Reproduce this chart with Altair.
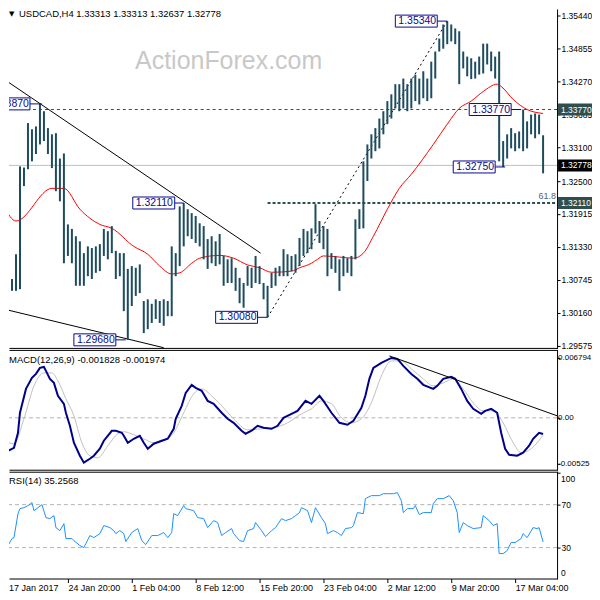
import json
import altair as alt
import pandas as pd

# ---------------- data ----------------
# H4 bars, every second bar shown (bar index step 2), high / low
bar_high = [1.3078, 1.3072, 1.3076, 1.3120, 1.3276, 1.3274, 1.3353, 1.3342, 1.3347, 1.3387,
            1.3374, 1.3344, 1.3333, 1.3335, 1.3290, 1.3299, 1.3173, 1.3165, 1.3152, 1.3143,
            1.3122, 1.3134, 1.3131, 1.3134, 1.3138, 1.3165, 1.3161, 1.3170, 1.3126, 1.3122,
            1.3122, 1.3094, 1.3099, 1.3096, 1.3102, 1.3037, 1.3040, 1.3032, 1.3040, 1.3037,
            1.3040, 1.3037, 1.3134, 1.3122, 1.3205, 1.3211, 1.3200, 1.3193, 1.3188, 1.3175,
            1.3170, 1.3147, 1.3152, 1.3143, 1.3156, 1.3117, 1.3111, 1.3113, 1.3096, 1.3078,
            1.3069, 1.3099, 1.3096, 1.3117, 1.3099, 1.3069, 1.3064, 1.3087, 1.3096, 1.3099,
            1.3129, 1.3120, 1.3117, 1.3120, 1.3149, 1.3165, 1.3161, 1.3166, 1.3209, 1.3179,
            1.3170, 1.3165, 1.3122, 1.3117, 1.3111, 1.3117, 1.3113, 1.3117, 1.3182, 1.3200,
            1.3285, 1.3315, 1.3333, 1.3344, 1.3361, 1.3374, 1.3392, 1.3404, 1.3422, 1.3422,
            1.3432, 1.3422, 1.3432, 1.3439, 1.3432, 1.3445, 1.3432, 1.3462, 1.3480, 1.3503,
            1.3528, 1.3534, 1.3528, 1.3521, 1.3516, 1.3480, 1.3471, 1.3468, 1.3462, 1.3471,
            1.3494, 1.3494, 1.3480, 1.3471, 1.3480, 1.3321, 1.3333, 1.3344, 1.3335, 1.3338,
            1.3377, 1.3356, 1.3368, 1.3370, 1.3368, 1.33313]
bar_low = [1.3033, 1.3046, 1.3055, 1.3055, 1.3058, 1.3241, 1.3271, 1.3285, 1.3298, 1.3315,
           1.3321, 1.3298, 1.3273, 1.3232, 1.3214, 1.3104, 1.3117, 1.3104, 1.3064, 1.3064,
           1.3064, 1.3081, 1.3076, 1.3087, 1.3090, 1.3117, 1.3111, 1.3122, 1.3076, 1.3081,
           1.3019, 1.2968, 1.3028, 1.3046, 1.3051, 1.2980, 1.2987, 1.2998, 1.3005, 1.2998,
           1.2993, 1.3010, 1.3010, 1.3081, 1.3099, 1.3134, 1.3152, 1.3147, 1.3140, 1.3134,
           1.3111, 1.3094, 1.3104, 1.3099, 1.3102, 1.3064, 1.3069, 1.3069, 1.3055, 1.3033,
           1.3025, 1.3064, 1.3060, 1.3069, 1.3067, 1.3040, 1.3008, 1.3060, 1.3064, 1.3081,
           1.3081, 1.3081, 1.3090, 1.3087, 1.3099, 1.3117, 1.3122, 1.3129, 1.3157, 1.3140,
           1.3129, 1.3081, 1.3094, 1.3087, 1.3055, 1.3081, 1.3087, 1.3081, 1.3111, 1.3165,
           1.3166, 1.3250, 1.3290, 1.3303, 1.3308, 1.3333, 1.3351, 1.3361, 1.3379, 1.3374,
           1.3379, 1.3374, 1.3379, 1.3392, 1.3386, 1.3397, 1.3392, 1.3397, 1.3432, 1.3480,
           1.3485, 1.3493, 1.3498, 1.3493, 1.3422, 1.3450, 1.3436, 1.3431, 1.3432, 1.3439,
           1.3441, 1.3457, 1.3445, 1.3432, 1.3285, 1.3275, 1.3290, 1.3308, 1.3303, 1.3308,
           1.3303, 1.3308, 1.3333, 1.3326, 1.3333, 1.32637]
bar_step = 2

ma_index = [0, 6, 24, 30, 38, 48, 54, 65, 72, 78, 84, 88, 94, 98, 108, 115, 122, 128, 134, 144,
            148, 154, 157, 160, 168, 175, 180, 185, 192, 198, 204, 215, 222, 228, 234, 240, 247,
            249, 255, 262, 270]
ma_value = [1.3205, 1.3179, 1.3237, 1.3237, 1.3200, 1.3173, 1.3166, 1.3134, 1.3120, 1.3099,
            1.3085, 1.3087, 1.3104, 1.3113, 1.3118, 1.3113, 1.3101, 1.3096, 1.3088, 1.3090,
            1.3096, 1.3104, 1.3111, 1.3117, 1.3115, 1.3113, 1.3122, 1.3152, 1.3200, 1.3237,
            1.3262, 1.3315, 1.3351, 1.3379, 1.3392, 1.3409, 1.3422, 1.3418, 1.3395, 1.3377,
            1.3370]

macd_index = [0, 2, 5, 7, 8, 11, 14, 16, 18, 20, 21, 23, 25, 27, 30, 31, 33, 35, 38, 40,
              43, 45, 48, 50, 54, 56, 59, 60, 62, 65, 68, 70, 72, 75, 79, 82, 85, 86, 89, 91,
              94, 96, 99, 102, 105, 109, 112, 115, 119, 121, 124, 127, 130, 134, 137, 140, 144,
              147, 149, 151, 154, 158, 160, 164, 168, 172, 175, 179, 181, 183, 185, 189, 194,
              197, 200, 204, 207, 210, 215, 217, 220, 224, 226, 229, 232, 235, 239, 241, 244,
              247, 249, 251, 253, 257, 260, 263, 265, 268, 270]
macd_value = [-0.00317, -0.00374, -0.00340, -0.00170, 0.00057, 0.00328, 0.00453, 0.00498,
              0.00566, 0.00577, 0.00532, 0.00442, 0.00396, 0.00249, 0.00158, 0.00057, -0.00091,
              -0.00283, -0.00430, -0.00509, -0.00464, -0.00430, -0.00351, -0.00260, -0.00147,
              -0.00147, -0.00170, -0.00204, -0.00283, -0.00238, -0.00204, -0.00283, -0.00351,
              -0.00294, -0.00260, -0.00238, -0.00125, -0.00011, 0.00136, 0.00283, 0.00374,
              0.00340, 0.00306, 0.00192, 0.00158, 0.00057, -0.00011, -0.00057, -0.00147,
              -0.00181, -0.00147, -0.00091, -0.00113, -0.00125, -0.00091, 0.0, 0.00045, 0.00079,
              0.00136, 0.00192, 0.00158, 0.00249, 0.00192, 0.00057, -0.00057, -0.00079, -0.00034,
              0.00113, 0.00249, 0.00442, 0.00566, 0.00623, 0.00679, 0.00668, 0.00589, 0.00498,
              0.00442, 0.00374, 0.00328, 0.00362, 0.00442, 0.00464, 0.00442, 0.00328, 0.00192,
              0.00102, 0.00045, 0.00079, 0.00102, 0.00057, -0.00170, -0.00351, -0.00419,
              -0.00430, -0.00396, -0.00317, -0.00238, -0.00170, -0.001828]

signal_index = [0, 5, 10, 15, 20, 24, 27, 31, 35, 39, 43, 47, 52, 57, 60, 65, 70, 75, 80, 85,
                90, 95, 99, 104, 109, 115, 122, 129, 135, 142, 149, 154, 159, 164, 169, 174, 179,
                184, 189, 194, 199, 204, 210, 215, 220, 225, 230, 235, 240, 245, 250, 255, 259,
                264, 270]
signal_value = [-0.00260, -0.00294, -0.00011, 0.00362, 0.00509, 0.00509, 0.00419, 0.00215,
                0.00023, -0.00283, -0.00430, -0.00453, -0.00317, -0.00181, -0.00158, -0.00192,
                -0.00238, -0.00283, -0.00260, -0.00170, 0.00057, 0.00272, 0.00328, 0.00249,
                0.00136, -0.00011, -0.00136, -0.00125, -0.00113, -0.00057, 0.00045, 0.00102,
                0.00192, 0.00158, 0.0, -0.00057, -0.00011, 0.00170, 0.00475, 0.00645, 0.00645,
                0.00555, 0.00442, 0.00362, 0.00396, 0.00442, 0.00328, 0.00170, 0.00079, 0.00079,
                -0.00057, -0.00283, -0.00396, -0.00351, -0.001974]

rsi_index = [0, 2, 4, 5, 7, 8, 10, 12, 14, 15, 17, 19, 21, 23, 25, 26, 28, 30, 31, 34,
             35, 38, 40, 41, 43, 45, 48, 50, 53, 55, 56, 58, 60, 61, 64, 67, 69, 71, 74, 77,
             80, 82, 84, 85, 87, 90, 91, 95, 97, 100, 102, 105, 107, 109, 111, 114, 115, 118, 120,
             122, 125, 126, 129, 131, 134, 136, 139, 141, 144, 146, 148, 149, 152, 154, 156, 159,
             161, 162, 165, 167, 169, 171, 174, 175, 177, 180, 181, 184, 188, 190, 192, 195, 197,
             199, 200, 202, 205, 206, 208, 210, 214, 215, 217, 220, 223, 225, 227, 228, 230, 232,
             235, 239, 240, 243, 245, 247, 248, 250, 252, 254, 256, 259, 260, 262, 265, 267, 268,
             270]
rsi_value = [32.8, 31.9, 38.4, 39.3, 61.6, 66.3, 67.2, 69.1, 71.9, 64.4,
             67.2, 70.0, 57.9, 57.0, 59.8, 48.6, 45.8, 52.3, 38.4, 38.4,
             36.5, 31.9, 30.0, 33.7, 41.2, 39.3, 43.0, 50.5, 48.6, 45.8,
             43.0, 45.8, 43.0, 35.6, 44.0, 47.7, 36.5, 32.8, 41.2, 41.2,
             44.0, 39.3, 44.0, 61.6, 59.8, 69.1, 66.3, 64.4, 57.9, 57.0,
             48.6, 55.1, 53.3, 41.2, 44.0, 47.7, 43.0, 36.5, 35.6, 45.8,
             47.7, 53.3, 45.8, 40.2, 45.8, 48.6, 57.0, 55.1, 57.0, 59.8,
             62.6, 67.2, 64.4, 53.3, 67.2, 57.9, 52.3, 43.0, 45.8, 44.0,
             41.2, 47.7, 48.6, 50.5, 62.6, 61.6, 75.6, 78.4, 78.4, 80.2,
             80.2, 80.2, 81.2, 73.7, 62.6, 66.3, 66.3, 69.1, 60.7, 62.6,
             62.6, 70.9, 75.6, 75.6, 78.4, 73.7, 62.6, 44.0, 53.3, 50.5,
             47.7, 48.6, 59.8, 55.1, 50.5, 52.3, 24.4, 24.4, 27.2, 34.7,
             34.7, 38.4, 43.0, 39.3, 48.6, 47.7, 48.6, 35.2568]

price_ticks = [1.35440, 1.34855, 1.34270, 1.33685, 1.33100, 1.32500, 1.31915, 1.31330,
               1.30745, 1.30160, 1.29575]
macd_ticks = [0.006794, 0.0, -0.005254]
macd_tick_labels = ["0.006794", "0.00", "-0.005254"]
rsi_ticks = [30, 70, 100]
rsi_levels = [30, 70]
date_index = [0, 32, 64, 96, 128, 160, 192, 224, 256]
date_labels = ["17 Jan 2017", "24 Jan 20:00", "1 Feb 04:00", "8 Feb 12:00", "15 Feb 20:00",
               "23 Feb 04:00", "2 Mar 12:00", "9 Mar 20:00", "17 Mar 04:00"]

ann_text = ["1.33870", "1.35340", "1.32110", "1.29680", "1.30080", "1.33770", "1.32750"]
ann_price = [1.33870, 1.35340, 1.32110, 1.29680, 1.30080, 1.33770, 1.32750]
ann_bar = [19, 222, 90, 61, 132, 259, 251]
ann_box_left = [-8, 196, 64.5, 35, 106, 233, 225]

level_price = [1.33770, 1.32110]
level_start = [-0.5, 132]
last_price = 1.32778

trend_x1 = [-0.5, -0.5]
trend_y1 = [1.3432, 1.3023]
trend_x2 = [128.5, 80]
trend_y2 = [1.3122, 1.2954]
swing_x = [132, 222]
swing_y = [1.30080, 1.35340]
macd_trend_x = [193, 277]
macd_trend_y = [0.00702, 0.00023]

tag_price = [1.33770, 1.32778, 1.32110]
tag_text = ["1.33770", "1.32778", "1.32110"]
tag_color = ["#2f4f4f", "#000000", "#2f4f4f"]

title_text = "USDCAD,H4  1.33313 1.33313 1.32637 1.32778"
macd_text = "MACD(12,26,9) -0.001828 -0.001974"
rsi_text = "RSI(14) 35.2568"

# ---------------- styling / geometry ----------------
FONT = "Liberation Sans"
FS = 9.5      # panel captions
FA = 8.5      # right-hand axis labels
BAR = "#1d4c5f"
NAVY = "#0a0a8c"
W = 549
H_MAIN, H_MACD, H_RSI = 339, 120, 107
X_MIN, X_MAX = 2.5, 277

XS = alt.Scale(domain=[X_MIN, X_MAX], nice=False, zero=False)
YP = alt.Scale(domain=[1.295367, 1.355462], nice=False, zero=False)
YM = alt.Scale(domain=[-0.005888, 0.0077], nice=False, zero=False)
YR = alt.Scale(domain=[1.16, 100.7], nice=False, zero=False)

AX_P = alt.Axis(orient="right", values=price_ticks, format=".5f", tickSize=3, labelPadding=1,
                domain=False, grid=False, title=None, labelOverlap=False, labelFlush=False,
                labelFontSize=FA)
AX_M = alt.Axis(orient="right", values=macd_ticks, tickSize=3, labels=False, domain=False,
                grid=False, title=None)
AX_R = alt.Axis(orient="right", values=rsi_ticks, tickSize=3, labelPadding=1,
                domain=False, grid=False, title=None, labelOverlap=False, labelFlush=False,
                labelFontSize=FA, labelExpr="datum.value > 90 ? '' : format(datum.value, 'd')")
axis_dates = [d for d in date_index if d >= X_MIN]
AX_D = alt.Axis(values=axis_dates, tickSize=4, labelPadding=8, labelAlign="left",
                labelBaseline="alphabetic", labelFlush=False, labelOverlap=False, domain=False,
                grid=False, title=None, labelFontSize=9,
                labelExpr=f"{json.dumps(date_labels)}[indexof({json.dumps(date_index)}, datum.value)]")


def xq(f, axis=None):
    return alt.X(f, type="quantitative", scale=XS, axis=axis)


def yq(f, scale, axis):
    return alt.Y(f, type="quantitative", scale=scale, axis=axis)


def one():
    return pd.DataFrame({"a": [0]})


def frame(height, top=True):
    # right, bottom (and optional top) border lines of a panel
    parts = [
        alt.Chart(one()).mark_rule(color="black", strokeWidth=1).encode(
            x=alt.value(W + 0.5), y=alt.value(0), y2=alt.value(height + 1)),
        alt.Chart(one()).mark_rule(color="black", strokeWidth=1).encode(
            x=alt.value(0.5), x2=alt.value(W + 0.5), y=alt.value(height + 0.5)),
    ]
    if top:
        parts.append(alt.Chart(one()).mark_rule(color="black", strokeWidth=1).encode(
            x=alt.value(0.5), x2=alt.value(W + 0.5), y=alt.value(0.5)))
    return parts


def label(text, x, y, size=FS, color="black", font=FONT, align="left", baseline="middle"):
    return alt.Chart(pd.DataFrame({"t": [text]})).mark_text(
        align=align, baseline=baseline, color=color, font=font, fontSize=size).encode(
        x=alt.value(x), y=alt.value(y), text="t:N")


# ---------------- main price panel ----------------
bars_df = pd.DataFrame({"i": [k * bar_step for k in range(len(bar_high))],
                        "high": bar_high, "low": bar_low})
ma_df = pd.DataFrame({"i": ma_index, "v": ma_value})
lvl_df = pd.DataFrame({"p": level_price, "s": level_start, "e": [X_MAX, X_MAX]})
last_df = pd.DataFrame({"p": [last_price], "s": [-0.5], "e": [X_MAX]})
trend_df = pd.DataFrame({"x1": trend_x1, "y1": trend_y1, "x2": trend_x2, "y2": trend_y2})
swing_df = pd.DataFrame({"x1": [swing_x[0]], "y1": [swing_y[0]], "x2": [swing_x[1]], "y2": [swing_y[1]]})
ann_df = pd.DataFrame({"t": ann_text, "p": ann_price, "bar": ann_bar, "box": ann_box_left})
tag_df = pd.DataFrame({"p": tag_price, "t": tag_text, "c": tag_color})

last_line = alt.Chart(last_df).mark_rule(color="#c0c0c0", strokeWidth=1, clip=True).encode(
    x=xq("s"), x2="e", y=yq("p", YP, AX_P))
lvl1 = alt.Chart(lvl_df.iloc[[0]]).mark_rule(color="#2f4f4f", strokeWidth=1, strokeDash=[3, 3],
                                             clip=True).encode(
    x=xq("s"), x2="e", y=yq("p", YP, AX_P))
lvl2 = alt.Chart(lvl_df.iloc[[1]]).mark_rule(color="#2f4f4f", strokeWidth=2, strokeDash=[3, 2],
                                             clip=True).encode(
    x=xq("s"), x2="e", y=yq("p", YP, AX_P))
trend = alt.Chart(trend_df).mark_rule(color="black", strokeWidth=1, clip=True).encode(
    x=xq("x1"), y=yq("y1", YP, AX_P), x2="x2", y2="y2")
swing = alt.Chart(swing_df).mark_rule(color="black", strokeWidth=1, strokeDash=[2, 3]).encode(
    x=xq("x1"), y=yq("y1", YP, AX_P), x2="x2", y2="y2")
ma = alt.Chart(ma_df).mark_line(color="#ff0000", strokeWidth=1, interpolate="monotone",
                                clip=True).encode(
    x=xq("i"), y=yq("v", YP, AX_P))
bars = alt.Chart(bars_df).transform_filter(alt.datum.i >= X_MIN).mark_rule(
    color=BAR, strokeWidth=2).encode(
    x=xq("i"), y=yq("low", YP, AX_P), y2="high")
conn = alt.Chart(ann_df).mark_rule(color=NAVY, strokeWidth=1, xOffset=42, clip=True).encode(
    x=xq("box"), x2="bar", y=yq("p", YP, AX_P))
box = alt.Chart(ann_df).mark_rect(fill="white", stroke=NAVY, strokeWidth=1, x2Offset=42,
                                  yOffset=-6, y2Offset=6, clip=True).encode(
    x=xq("box"), x2="box", y=yq("p", YP, AX_P), y2="p")
box_txt = alt.Chart(ann_df).mark_text(align="left", baseline="middle", dx=3, color=NAVY,
                                      font=FONT, fontSize=10.5, clip=True).encode(
    x=xq("box"), y=yq("p", YP, AX_P), text="t:N")
fib_txt = alt.Chart(pd.DataFrame({"p": [level_price[1]], "t": ["61.8"]})).mark_text(
    align="right", baseline="middle", dy=-7, color="#506478", font=FONT, fontSize=9).encode(
    x=alt.value(W - 1), y=yq("p", YP, AX_P), text="t:N")
tag_bg = alt.Chart(tag_df).mark_rect(yOffset=-6, y2Offset=6).encode(
    x=alt.value(W + 1), x2=alt.value(W + 35), y=yq("p", YP, AX_P), y2="p",
    color=alt.Color("c:N", scale=None))
tag_txt = alt.Chart(tag_df).mark_text(align="left", baseline="middle", color="white",
                                      font=FONT, fontSize=FA).encode(
    x=alt.value(W + 4), y=yq("p", YP, AX_P), text="t:N")
wm = label("ActionForex.com", 220, 52, size=25, color="#c8c8c8", align="center")
tri = label("\u25bc", 0, 1, size=7, font="DejaVu Sans", baseline="top")
ttl = label(title_text, 10, 0, baseline="top")

main = alt.layer(last_line, lvl1, lvl2, trend, swing, ma, bars, conn, box, box_txt, fib_txt,
                 tag_bg, tag_txt, wm, tri, ttl, *frame(H_MAIN, top=False)).properties(
    width=W, height=H_MAIN, view=alt.ViewBackground(stroke=None))

# ---------------- MACD panel ----------------
macd_df = pd.DataFrame({"i": macd_index, "v": macd_value})
sig_df = pd.DataFrame({"i": signal_index, "v": signal_value})
mtr_df = pd.DataFrame({"x1": [macd_trend_x[0]], "y1": [macd_trend_y[0]],
                       "x2": [macd_trend_x[1]], "y2": [macd_trend_y[1]]})
zero_df = pd.DataFrame({"v": [0.0]})
mlab_df = pd.DataFrame({"v": macd_ticks, "t": macd_tick_labels})

m_zero = alt.Chart(zero_df).mark_rule(color="#b4b4b4", strokeDash=[4, 3]).encode(
    y=yq("v", YM, AX_M))
m_sig = alt.Chart(sig_df).mark_line(color="#c0c0c0", strokeWidth=1, interpolate="monotone",
                                    clip=True).encode(
    x=xq("i"), y=yq("v", YM, AX_M))
m_line = alt.Chart(macd_df).mark_line(color="#00008b", strokeWidth=2, clip=True).encode(
    x=xq("i"), y=yq("v", YM, AX_M))
m_tr = alt.Chart(mtr_df).mark_rule(color="black", strokeWidth=1).encode(
    x=xq("x1"), y=yq("y1", YM, AX_M), x2="x2", y2="y2")
m_ticklab = alt.Chart(mlab_df).mark_text(align="left", baseline="middle", color="black",
                                         font=FONT, fontSize=8, limit=34,
                                         ellipsis="\u200b").encode(
    x=alt.value(W + 1), y=yq("v", YM, AX_M), text="t:N")
m_lab = label(macd_text, 0, 10)
macd = alt.layer(m_zero, m_sig, m_line, m_tr, m_ticklab, m_lab, *frame(H_MACD)).properties(
    width=W, height=H_MACD, view=alt.ViewBackground(stroke=None))

# ---------------- RSI panel ----------------
rsi_df = pd.DataFrame({"i": rsi_index, "v": rsi_value})
lv_df = pd.DataFrame({"v": rsi_levels})
r_lv = alt.Chart(lv_df).mark_rule(color="#b4b4b4", strokeDash=[4, 3]).encode(
    y=yq("v", YR, AX_R))
r_line = alt.Chart(rsi_df).mark_line(color="#1e90ff", strokeWidth=1, clip=True).encode(
    x=xq("i", AX_D), y=yq("v", YR, AX_R))
r_100 = label("100", W + 4, 7, size=FA)
r_0 = label("0", W + 4, 101, size=FA)
r_lab = label(rsi_text, 0, 9)
first_date = label(date_labels[0], 0, H_RSI + 12, size=9, baseline="alphabetic")
rsi = alt.layer(r_lv, r_line, r_100, r_0, r_lab, first_date, *frame(H_RSI)).properties(
    width=W, height=H_RSI, view=alt.ViewBackground(stroke=None))

chart = alt.vconcat(main, macd, rsi, spacing=2, bounds="flush").properties(
    padding=0,
    background="white",
).configure_axis(
    labelFont=FONT, labelColor="black", tickColor="black", tickWidth=1)

chart.save("out.html", embed_options={"renderer": "svg", "actions": False})
